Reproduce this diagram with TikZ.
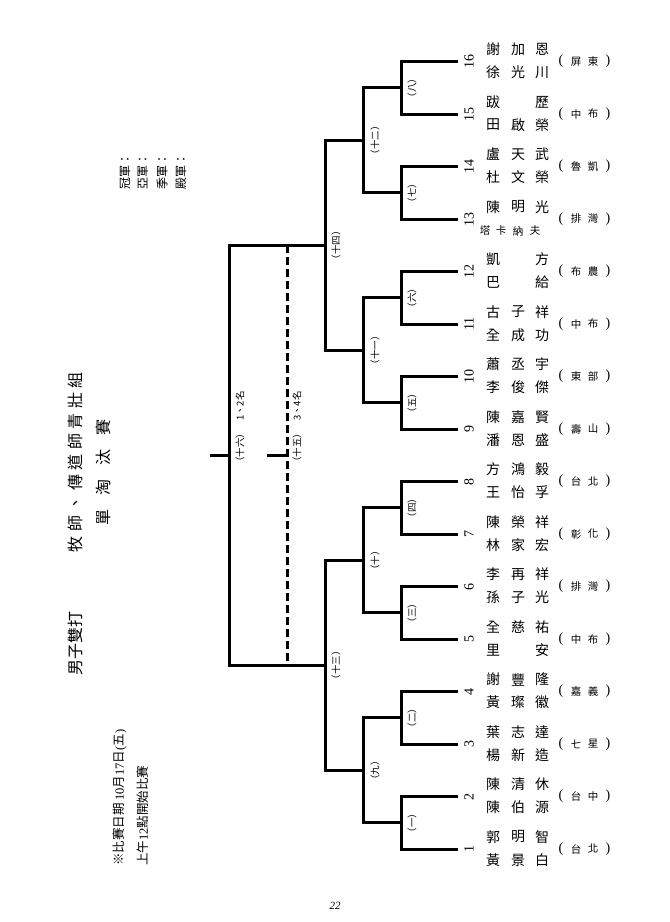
\documentclass[tikz,border=0pt]{standalone}
\usepackage{fontspec}
\setmainfont{Liberation Serif}
\newfontfamily\cjk{Noto Sans CJK TC}
\newcommand\latn[1]{{\rmfamily #1}}
\begin{document}
\begin{tikzpicture}[x=1pt,y=-1pt,
  br/.style={line width=3pt,line join=miter},
  dsh/.style={line width=3pt,dash pattern=on 8pt off 4pt},
  nm/.style={inner sep=0pt,font=\cjk\fontsize{14}{14}\selectfont},
  smnm/.style={inner sep=0pt,font=\cjk\fontsize{10.5}{10.5}\selectfont},
  num/.style={inner sep=0pt,rotate=90,font=\fontsize{14}{14}\selectfont},
  club/.style={inner sep=0pt,font=\cjk\fontsize{10.5}{10.5}\selectfont},
  par/.style={inner sep=0pt,font=\fontsize{14}{14}\selectfont},
  rnd/.style={inner sep=0pt,rotate=90,font=\cjk\fontsize{9.5}{9.5}\selectfont},
  ttl/.style={inner sep=0pt,rotate=90,font=\cjk\fontsize{16}{16}\selectfont},
  note/.style={inner sep=0pt,rotate=90,anchor=west,font=\cjk\fontsize{12.5}{12.5}\selectfont},
  rank/.style={inner sep=0pt,rotate=90,anchor=west,font=\cjk\fontsize{12}{12}\selectfont}
]
\useasboundingbox (0,0) rectangle (670,922);

% titles
\node[ttl] (t1) at (75,643) {男子雙打};
\node[ttl] (t2) at (75,462) {牧\kern4.5pt 師\kern4.5pt 、\kern4.5pt 傳\kern4.5pt 道\kern4.5pt 師\kern4.5pt 青\kern4.5pt 壯\kern4.5pt 組};
\node[ttl] (t3) at (103,472) {單\kern14pt 淘\kern14pt 汰\kern14pt 賽};
\node[note] (nt1) at (120,866) {※比賽日期\ \latn{10}月\latn{17}日\latn{(}五\latn{)}};
\node[note] (nt2) at (143,866) {上午\latn{12}點開始比賽};

% ranks
\node[rank] (rk1) at (125,190) {冠軍：};
\node[rank] (rk2) at (143,190) {亞軍：};
\node[rank] (rk3) at (162,190) {季軍：};
\node[rank] (rk4) at (181,190) {殿軍：};

% entries
\foreach \k/\yy/\ta/\tb/\tc/\ba/\bb/\bc/\ca/\cb in {
1/849/郭/明/智/黃/景/白/台/北,
2/796.5/陳/清/休/陳/伯/源/台/中,
3/744/葉/志/達/楊/新/造/七/星,
4/691.5/謝/豐/隆/黃/璨/徽/嘉/義,
5/639/全/慈/祐/里//安/中/布,
6/586.5/李/再/祥/孫/子/光/排/灣,
7/534/陳/榮/祥/林/家/宏/彰/化,
8/481.5/方/鴻/毅/王/怡/孚/台/北,
9/429/陳/嘉/賢/潘/恩/盛/壽/山,
10/376.5/蕭/丞/宇/李/俊/傑/東/部,
11/324/古/子/祥/全/成/功/中/布,
12/271.5/凱//方/巴//給/布/農,
13/219/陳/明/光////排/灣,
14/166.5/盧/天/武/杜/文/榮/魯/凱,
15/114/跋//歷/田/啟/榮/中/布,
16/61.5/謝/加/恩/徐/光/川/屏/東}
{
  \coordinate (e\k) at (458,\yy);
  \node[num] (n\k) at (469,\yy) {\k};
  \node[nm] (ta\k) at (493,\yy-12) {\ta};
  \node[nm] (tb\k) at (518,\yy-12) {\tb};
  \node[nm] (tc\k) at (542,\yy-12) {\tc};
  \node[nm] (ba\k) at (493,\yy+11) {\ba};
  \node[nm] (bb\k) at (518,\yy+11) {\bb};
  \node[nm] (bc\k) at (542,\yy+11) {\bc};
  \node[par] (pl\k) at (561,\yy) {(};
  \node[club] (ca\k) at (576,\yy) {\ca};
  \node[club] (cb\k) at (593,\yy) {\cb};
  \node[par] (pr\k) at (608,\yy) {)};
}
\node[smnm] (x1) at (485,231) {塔};
\node[smnm] (x2) at (501,231) {卡};
\node[smnm] (x3) at (518,231) {納};
\node[smnm] (x4) at (535,231) {夫};

% round 1
\foreach \p/\a/\b/\m/\lab in {1/1/2/822.75/一, 2/3/4/717.75/二, 3/5/6/612.75/三, 4/7/8/507.75/四,
  5/9/10/402.75/五, 6/11/12/297.75/六, 7/13/14/192.75/七, 8/15/16/87.75/八}{
  \coordinate (m\p) at (401,\m);
  \draw[br] (e\a) -| (m\p) |- (e\b);
  \node[rnd] (l\p) at (412,\m) {（\lab）};
}
% round 2
\coordinate (r9) at (363,770.25);
\coordinate (r10) at (363,560.25);
\coordinate (r11) at (363,350.25);
\coordinate (r12) at (363,140.25);
\draw[br] (m1) -| (r9) |- (m2);
\draw[br] (m3) -| (r10) |- (m4);
\draw[br] (m5) -| (r11) |- (m6);
\draw[br] (m7) -| (r12) |- (m8);
\node[rnd] (l9) at (375,770.25) {（九）};
\node[rnd] (l10) at (375,560.25) {（十）};
\node[rnd] (l11) at (375,350.25) {（十一）};
\node[rnd] (l12) at (375,140.25) {（十二）};
% round 3
\coordinate (r13) at (325,665.25);
\coordinate (r14) at (325,245.25);
\draw[br] (r9) -| (r13) |- (r10);
\draw[br] (r11) -| (r14) |- (r12);
\node[rnd] (l13) at (336,665.25) {（十三）};
\node[rnd] (l14) at (336,245.25) {（十四）};
% final
\coordinate (f) at (229,455.25);
\coordinate (fs) at (210,455.25);
\draw[br] (r13) -| (f) |- (r14);
\draw[br] (f) -- (fs);
\coordinate (d13) at (287,665.25);
\coordinate (d14) at (287,245.25);
\coordinate (d) at (287,455.25);
\coordinate (ds) at (267,455.25);
\draw[dsh] (d14) -- (d13);
\draw[br] (d) -- (ds);
\node[rnd] (l16) at (240,429) {（十六）\kern8pt 1、2名};
\node[rnd] (l15) at (297,429) {（十五）\kern8pt 3、4名};

\node[inner sep=0pt,font=\itshape\fontsize{11}{11}\selectfont] (pg) at (335,906) {22};
\end{tikzpicture}
\end{document}
